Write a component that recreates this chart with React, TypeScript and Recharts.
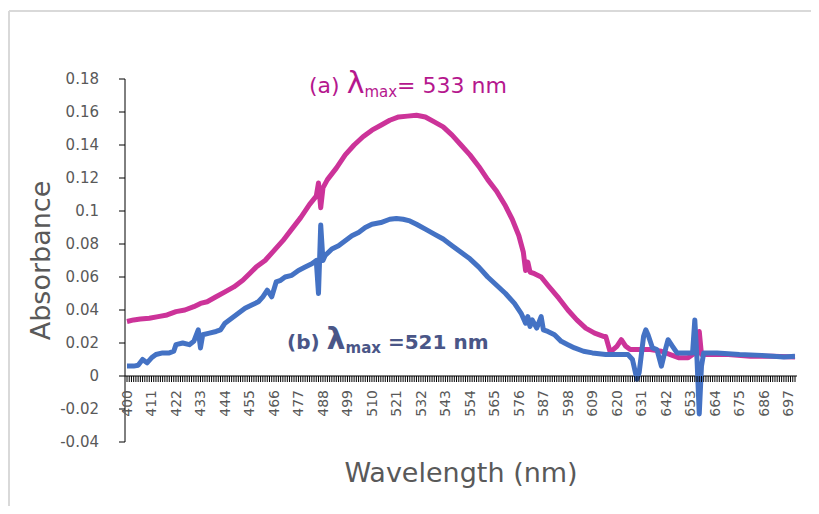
import React from 'react';
import { LineChart, Line, XAxis, YAxis, ReferenceLine, Label } from 'recharts';

// sample (a): wavelength (nm) and absorbance
const wavelengthA = [
  400, 403, 406, 410, 414, 418, 422, 426, 430, 433, 436, 440, 444, 448, 452, 455, 458, 462,
  466, 470, 474, 478, 482, 485, 486, 487, 488, 490, 494, 498, 502, 506, 510, 514, 518, 522,
  526, 530, 534, 538, 542, 546, 550, 554, 558, 562, 566, 570, 573, 576, 578, 579, 580, 581,
  583, 586, 589, 594, 598, 602, 606, 610, 614, 615, 617, 620, 622, 624, 626, 630, 635, 640,
  644, 648, 652, 655, 657, 658, 662, 670, 680, 690, 700,
];
const absorbanceA = [
  0.033, 0.034, 0.0345, 0.035, 0.036, 0.037, 0.039, 0.04, 0.042, 0.044, 0.045, 0.048, 0.051,
  0.054, 0.058, 0.062, 0.066, 0.07, 0.076, 0.082, 0.089, 0.096, 0.104, 0.109, 0.117, 0.102,
  0.114, 0.119, 0.126, 0.134, 0.14, 0.145, 0.149, 0.152, 0.155, 0.157, 0.1575, 0.158, 0.157,
  0.154, 0.151, 0.146, 0.14, 0.134, 0.127, 0.119, 0.112, 0.103, 0.095, 0.085, 0.075, 0.064,
  0.069, 0.063, 0.062, 0.06, 0.055, 0.047, 0.04, 0.034, 0.029, 0.026, 0.024, 0.024, 0.0145,
  0.018, 0.022, 0.018, 0.016, 0.016, 0.016, 0.015, 0.013, 0.011, 0.011, 0.014, 0.027, 0.013,
  0.013, 0.013, 0.012, 0.012, 0.0115,
];

// sample (b)
const wavelengthB = [
  400, 403, 405, 407, 409, 411, 413, 416, 419, 421, 422, 425, 428, 430, 432, 433, 434, 437,
  440, 442, 444, 447, 450, 453, 456, 459, 461, 463, 465, 467, 469, 471, 474, 477, 480, 483,
  485, 486, 487, 488, 489, 492, 495, 498, 501, 504, 507, 510, 514, 518, 521, 524, 527, 530,
  534, 538, 542, 546, 550, 554, 558, 562, 566, 570, 574, 577, 579, 580, 581, 582, 584, 586,
  587, 589, 592, 595, 598, 601, 605, 609, 615, 620, 625, 627, 629, 630, 632, 633, 634, 636,
  638, 640, 642, 643, 645, 647, 651, 654, 655, 656, 657, 658, 659, 665, 675, 685, 695, 700,
];
const absorbanceB = [
  0.006, 0.006, 0.0065, 0.01, 0.008, 0.011, 0.013, 0.014, 0.014, 0.015, 0.019, 0.02, 0.019,
  0.021, 0.028, 0.017, 0.025, 0.026, 0.027, 0.028, 0.032, 0.035, 0.038, 0.041, 0.043, 0.045,
  0.048, 0.052, 0.048, 0.057, 0.058, 0.06, 0.061, 0.064, 0.066, 0.068, 0.07, 0.05, 0.0915,
  0.07, 0.073, 0.077, 0.079, 0.082, 0.085, 0.087, 0.09, 0.092, 0.093, 0.095, 0.0955, 0.095,
  0.094, 0.092, 0.089, 0.086, 0.083, 0.079, 0.075, 0.071, 0.066, 0.06, 0.055, 0.05, 0.044,
  0.038, 0.032, 0.036, 0.03, 0.034, 0.029, 0.036, 0.028, 0.027, 0.025, 0.021, 0.019, 0.017,
  0.015, 0.014, 0.013, 0.013, 0.013, 0.01, -0.002, 0.002, 0.024, 0.028, 0.025, 0.017, 0.016,
  0.006, 0.017, 0.022, 0.018, 0.014, 0.014, 0.014, 0.034, 0.01, -0.023, 0.006, 0.014, 0.014,
  0.013, 0.0125, 0.0115, 0.012,
];

const xLabels = [
  400, 411, 422, 433, 444, 455, 466, 477, 488, 499, 510, 521, 532, 543, 554, 565, 576, 587,
  598, 609, 620, 631, 642, 653, 664, 675, 686, 697,
];
const yTicks = [-0.04, -0.02, 0, 0.02, 0.04, 0.06, 0.08, 0.1, 0.12, 0.14, 0.16, 0.18];

const dataA = wavelengthA.map((nm, i) => ({ nm, abs: absorbanceA[i] }));
const dataB = wavelengthB.map((nm, i) => ({ nm, abs: absorbanceB[i] }));
// one small tick per nm, like the category axis of the original
const minorTicks = Array.from({ length: 301 }, (_, i) => 400 + i);

const W = 811;
const H = 498;
const TOP = 71;
const PLOT_H = 363;
const ZERO_Y = TOP + (PLOT_H * 0.18) / 0.22;
const FONT = 'DejaVu Sans, sans-serif';
const GREY = '#595959';

const XTick = (props: any) => {
  const { x, payload } = props;
  const ly = ZERO_Y + 14;
  return (
    <g>
      <line x1={x} x2={x} y1={ZERO_Y} y2={ZERO_Y + 6} stroke="#000" strokeWidth={1} />
      {xLabels.includes(payload.value) && (
        <text
          x={x}
          y={ly}
          transform={`rotate(-90 ${x} ${ly})`}
          textAnchor="end"
          dominantBaseline="central"
          fontSize={14}
          fontFamily={FONT}
          fill={GREY}
        >
          {payload.value}
        </text>
      )}
    </g>
  );
};

export default function App() {
  return (
    <div style={{ position: 'relative', width: W, height: H, background: '#fff' }}>
      <LineChart width={W} height={H} margin={{ top: TOP, right: 22, left: 0, bottom: 0 }}>
        <XAxis
          type="number"
          dataKey="nm"
          domain={[400, 700]}
          ticks={minorTicks}
          interval={0}
          padding={{ left: 2, right: 2 }}
          height={H - TOP - PLOT_H}
          axisLine={false}
          tickLine={false}
          tick={<XTick />}
        >
          <Label
            value="Wavelength (nm)"
            position="insideBottom"
            offset={24}
            fontSize={27}
            fontFamily={FONT}
            fill={GREY}
          />
        </XAxis>
        <YAxis
          type="number"
          domain={[-0.04, 0.18]}
          ticks={yTicks}
          interval={0}
          width={117}
          axisLine={{ stroke: '#000' }}
          tickLine={{ stroke: '#000' }}
          tickSize={6}
          tickMargin={20}
          tick={{ fontSize: 15, fontFamily: FONT, fill: GREY }}
        >
          <Label
            content={() => (
              <text
                x={32}
                y={TOP + PLOT_H / 2}
                transform={`rotate(-90 32 ${TOP + PLOT_H / 2})`}
                textAnchor="middle"
                dominantBaseline="central"
                fontSize={27}
                fontFamily={FONT}
                fill={GREY}
              >
                Absorbance
              </text>
            )}
          />
        </YAxis>
        <ReferenceLine y={0} stroke="#000" strokeWidth={1} />
        <Line
          data={dataA}
          dataKey="abs"
          type="linear"
          stroke="#CC3399"
          strokeWidth={5}
          strokeLinejoin="round"
          dot={false}
          isAnimationActive={false}
        />
        <Line
          data={dataB}
          dataKey="abs"
          type="linear"
          stroke="#4472C4"
          strokeWidth={5}
          strokeLinejoin="round"
          dot={false}
          isAnimationActive={false}
        />
      </LineChart>
      <svg
        width={W}
        height={H}
        style={{ position: 'absolute', top: 0, left: 0, pointerEvents: 'none' }}
      >
        {/* chart frame, only its top and left edges are in view */}
        <line x1={1} y1={3} x2={W} y2={3} stroke="#d9d9d9" strokeWidth={2} />
        <line x1={1} y1={3} x2={1} y2={H} stroke="#d9d9d9" strokeWidth={2} />
        <text x={301} y={85} fill="#B5178E" fontSize={22} fontFamily={FONT}>
          (a) <tspan fontSize={30}>λ</tspan>
          <tspan fontSize={15} dy={4}>max</tspan>
          <tspan dy={-4}>= 533 nm</tspan>
        </text>
        <text x={279} y={341} fill="#4A5687" fontSize={20} fontWeight="bold" fontFamily={FONT}>
          (b) <tspan fontSize={30}>λ</tspan>
          <tspan fontSize={15} dy={4}>max</tspan>
          <tspan dy={-4}> =521 nm</tspan>
        </text>
      </svg>
    </div>
  );
}
